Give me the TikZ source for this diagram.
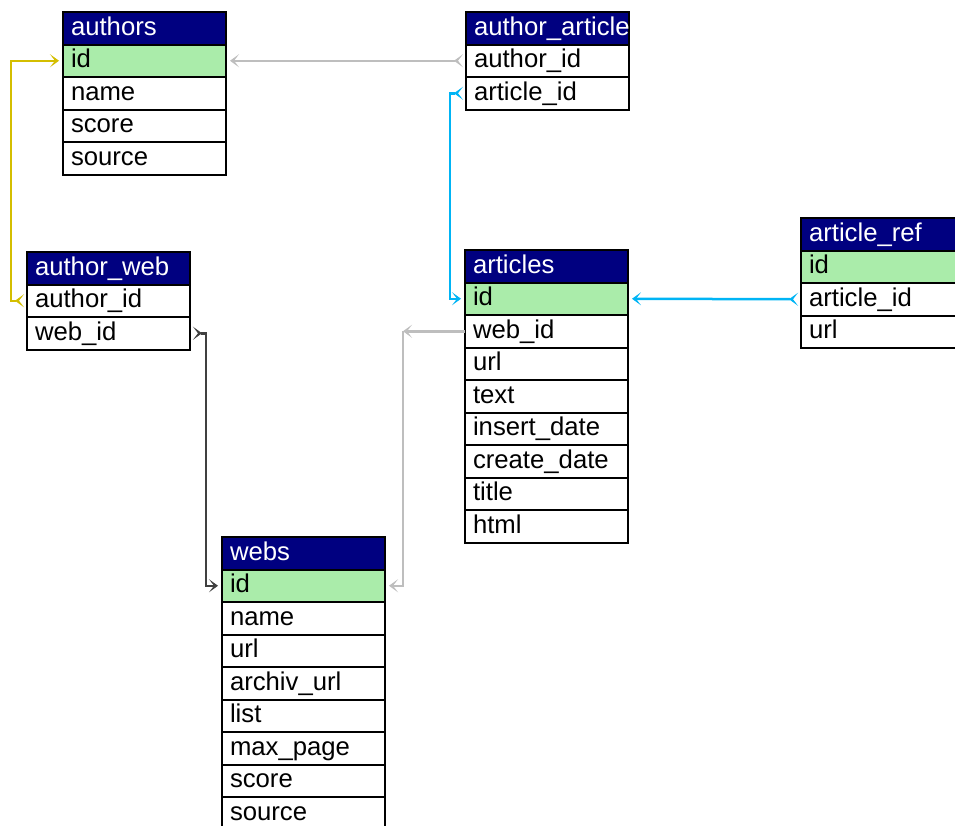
\documentclass[tikz,border=0pt]{standalone}
\usepackage{fontspec}
\setmainfont{Liberation Sans}
\usepackage{xcolor}
\usepackage{tikz}
\usetikzlibrary{arrows.meta,positioning}

\definecolor{headnavy}{RGB}{0,0,128}
\definecolor{keygreen}{RGB}{170,236,170}
\definecolor{linkgold}{RGB}{212,190,0}
\definecolor{linkcyan}{RGB}{0,180,245}
\definecolor{linkgray}{RGB}{190,190,190}
\definecolor{linkdark}{RGB}{64,64,64}

\tikzset{
  cell/.style={draw=black, line width=2pt, outer sep=0pt, inner xsep=8pt, inner ysep=0pt,
    text width=147pt, minimum height=32.5pt, text height=19pt, text depth=5pt, align=left,
    font=\fontsize{25.7pt}{30pt}\selectfont},
  tabhead/.style={cell, fill=headnavy, text=white},
  tabrow/.style={cell, fill=white},
  keyrow/.style={cell, fill=keygreen},
  link/.style={line width=2.5pt,
    {Stealth[reversed, sep=3pt, length=9pt, width=13pt, inset=5pt]}-{Stealth[sep=4pt, length=9pt, width=13pt, inset=5pt]}},
  pkend/.style={line width=2.5pt, -{Stealth[sep=4pt, length=9pt, width=13pt, inset=5pt]}},
  bendtip/.style={line width=2.5pt, -{Stealth[length=9pt, width=13pt, inset=5pt]}},
}

% table: name, top left, title, rows as style/text
\newcommand{\dbtable}[4]{%
  \node[tabhead, anchor=north west] (#1-0) at #2 {\mbox{#3}};
  \foreach \s/\f [count=\i, evaluate=\i as \j using int(\i-1)] in {#4}
    \node[\s, below=0pt of #1-\j] (#1-\i) {\mbox{\f}};
}

\begin{document}
\begin{tikzpicture}[x=1pt, y=-1pt]
  \useasboundingbox (0,0) rectangle (955,825);
  \clip (0,0) rectangle (955,825);

  \dbtable{authors}{(63,12)}{authors}{keyrow/id, tabrow/name, tabrow/score, tabrow/source}
  \dbtable{author_article}{(466,12)}{author\_article}{tabrow/author\_id, tabrow/article\_id}
  \dbtable{author_web}{(27,252)}{author\_web}{tabrow/author\_id, tabrow/web\_id}
  \dbtable{articles}{(465,250)}{articles}{keyrow/id, tabrow/web\_id, tabrow/url, tabrow/text,
    tabrow/insert\_date, tabrow/create\_date, tabrow/title, tabrow/html}
  \dbtable{article_ref}{(801,218)}{article\_ref}{keyrow/id, tabrow/article\_id, tabrow/url}
  \dbtable{webs}{(222,537)}{webs}{keyrow/id, tabrow/name, tabrow/url, tabrow/archiv\_url,
    tabrow/list, tabrow/max\_page, tabrow/score, tabrow/source}

  % links, foreign key -> key
  \draw[link, linkgray] (author_article-1.west) -- (authors-1.east);
  \draw[link, linkgold] (author_web-1.west) -- ++(-16,0) |- (authors-1.west);
  \draw[link, linkcyan] (author_article-2.west) -- ++(-16,0) |- (articles-1.west);
  \draw[link, linkcyan] (article_ref-2.west) -- (articles-1.east);
  \draw[link, linkdark] (author_web-2.east) -- ++(16,0) |- (webs-1.west);
  \coordinate (webbend) at ([xshift=-62pt]articles-2.west);
  \draw[bendtip, linkgray] (articles-2.west) -- (webbend);
  \draw[pkend, linkgray] (webbend) |- (webs-1.east);
\end{tikzpicture}
\end{document}
